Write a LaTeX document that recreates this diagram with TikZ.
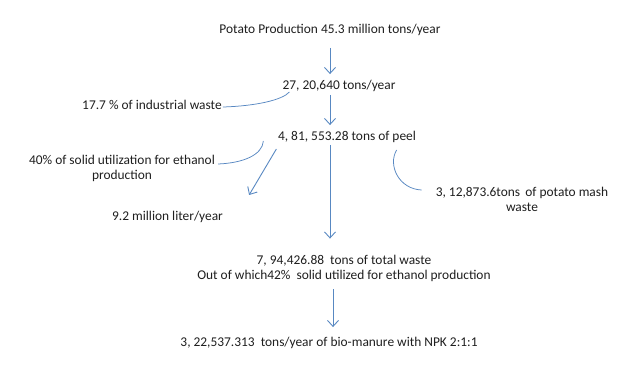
\documentclass[tikz,border=0pt]{standalone}
\usepackage{fontspec}
\setmainfont{Carlito}
\usetikzlibrary{arrows.meta,calc}
\definecolor{arrowblue}{RGB}{88,136,194}
\begin{document}
\begin{tikzpicture}[x=1pt,y=-1pt,
  lbl/.style={font=\fontsize{13.4}{15}\selectfont, inner sep=0pt, align=center, text=black!88},
  flow/.style={draw=arrowblue, line width=0.9pt, -{Straight Barb[length=6pt,width=11pt,line width=0.9pt]}},
  link/.style={draw=arrowblue, line width=0.75pt}]
\useasboundingbox[fill=white] (0,0) rectangle (643,385);
\node[lbl] (prod) at (330,30) {Potato Production 45.3 million tons/year};
\node[lbl] (t27) at (339,86) {27, 20,640 tons/year};
\node[lbl] (ind) at (152,105) {17.7 \% of industrial waste};
\node[lbl] (peel) at (347,137) {4, 81, 553.28 tons of peel};
\node[lbl] (sol) at (122,168.5) {40\% of solid utilization for ethanol\\production};
\node[lbl] (nine) at (167.5,217) {9.2 million liter/year};
\node[lbl] (mash) at (522,199.5) {3, 12,873.6tons\,\ of potato mash\\waste};
\node[lbl] (total) at (344,268) {7, 94,426.88\ \ tons of total waste\\Out of which42\%\ \ solid utilized for ethanol production};
\node[lbl] (final) at (329,343) {3, 22,537.313\ \ tons/year of bio-manure with NPK 2:1:1};

\draw[flow] ($(prod.south)+(0,12)$) -- ($(t27.north -| prod.south)+(0,-6)$);
\draw[flow] ($(t27.south -| prod.south)+(0,3)$) -- ($(peel.north -| prod.south)+(0,-6)$);
\draw[flow] ($(peel.south -| prod.south)+(0,2)$) -- ($(total.north -| prod.south)+(0,-16)$);
\draw[flow] ($(peel.west)+(-1.5,12)$) -- ($(nine.east)+(26,-22)$);
\draw[flow] ($(total.south -| final.north)+(4,8)$) -- ($(final.north)+(4,-10)$);

\draw[link] ($(ind.east)+(1,2)$) .. controls +(33,-1) and +(-7,8) .. ($(t27.west)+(7,6)$);
\draw[link] ($(sol.east)+(3,-4.5)$) .. controls +(25,-1) and +(-1,14) .. ($(peel.west)+(-14.5,4)$);
\draw[link] ($(peel.east)+(-19.5,13)$) .. controls +(-9,15) and +(-23,-1) .. ($(mash.west)+(-14,-9.5)$);
\end{tikzpicture}
\end{document}
